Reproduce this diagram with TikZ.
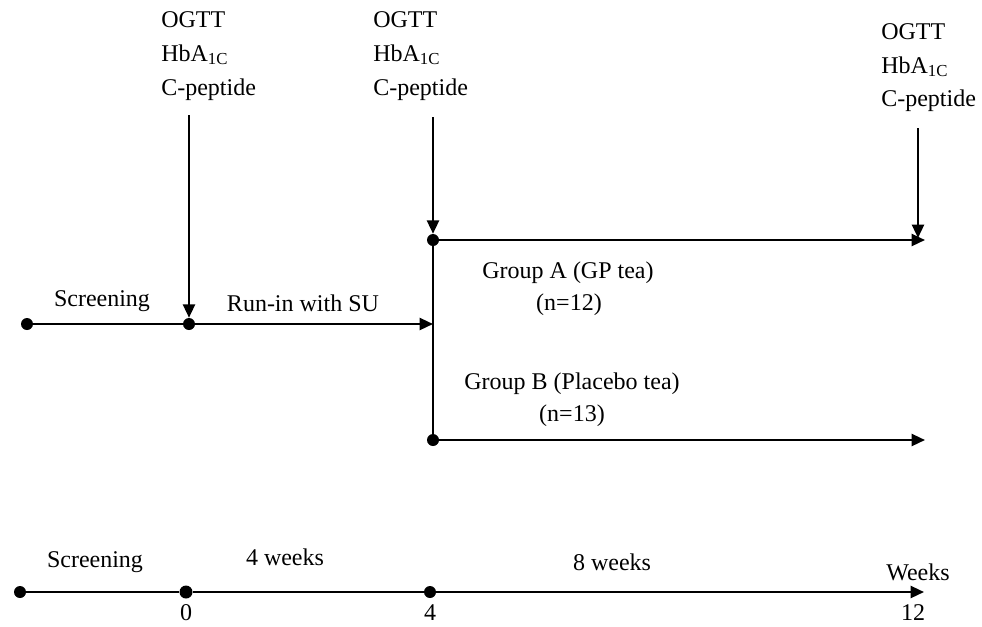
\documentclass[tikz,border=0pt]{standalone}
\usepackage{fontspec}
\setmainfont{Liberation Serif}
\usetikzlibrary{arrows.meta}
\begin{document}
\begin{tikzpicture}[x=0.75pt,y=-0.75pt,
  lbl/.style={inner sep=0pt,font=\fontsize{18}{22}\selectfont,anchor=base},
  lblw/.style={lbl,anchor=base west},
  dot/.style={circle,fill=black,inner sep=0pt,minimum size=12pt*0.75},
  ln/.style={line width=1.7pt},
  arr/.style={ln,-{Triangle[length=10pt,width=9pt]}}]
\useasboundingbox (0,0) rectangle (982,626);
% measurement labels
\node[lblw] (o1) at (161,27) {OGTT};
\node[lblw] (h1) at (161,61) {HbA\textsubscript{1C}};
\node[lblw] (c1) at (161,95) {C-peptide};
\node[lblw] (o2) at (373,27) {OGTT};
\node[lblw] (h2) at (373,61) {HbA\textsubscript{1C}};
\node[lblw] (c2) at (373,95) {C-peptide};
\node[lblw] (o3) at (881,39) {OGTT};
\node[lblw] (h3) at (881,73) {HbA\textsubscript{1C}};
\node[lblw] (c3) at (881,106) {C-peptide};
% dots
\node[dot] (s0) at (27,324) {};
\node[dot] (d1) at (189,324) {};
\node[dot] (dA) at (433,240) {};
\node[dot] (dB) at (433,440) {};
\coordinate (t1) at (189,115);
\coordinate (t2) at (433,117);
\coordinate (t3) at (918,128);
\coordinate (e3) at (918,238);
\coordinate (j) at (433,324);
\coordinate (eA) at (925,240);
\coordinate (eB) at (925,440);
% connectors
\draw[arr] (t1) -- (d1);
\draw[arr] (t2) -- (dA);
\draw[arr] (t3) -- (e3);
\draw[ln] (s0) -- (d1);
\draw[arr] (d1) -- (j);
\draw[ln] (dA) -- (dB);
\draw[arr] (dA) -- (eA);
\draw[arr] (dB) -- (eB);
% labels
\node[lbl] (scr1) at (102,306) {Screening};
\node[lbl] (run) at (303,311) {Run-in with SU};
\node[lbl] (gA) at (568,278) {Group A (GP tea)};
\node[lbl] (nA) at (569,310) {(n=12)};
\node[lbl] (gB) at (572,389) {Group B (Placebo tea)};
\node[lbl] (nB) at (572,421) {(n=13)};
% bottom timeline
\node[dot] (b0) at (20,592) {};
\node[dot,minimum size=13pt*0.75] (b1) at (186,592) {};
\node[dot] (b2) at (430,592) {};
\coordinate (b3) at (924,592);
\draw[ln] (b0) -- (b1);
\draw[ln] (b1) -- (b2);
\draw[arr] (b2) -- (b3);
\node[lbl] (scr2) at (95,567) {Screening};
\node[lbl] (w4) at (285,565) {4 weeks};
\node[lbl] (w8) at (612,570) {8 weeks};
\node[lbl] (wk) at (918,580) {Weeks};
\node[lbl] (n0) at (186,620) {0};
\node[lbl] (n4) at (430,620) {4};
\node[lbl] (n12) at (913,620) {12};
\end{tikzpicture}
\end{document}
